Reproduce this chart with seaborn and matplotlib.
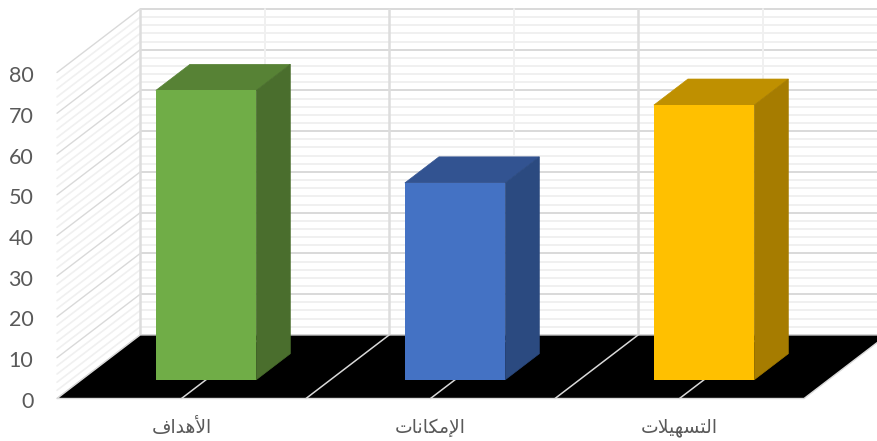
import pandas as pd
import seaborn as sns
import matplotlib.pyplot as plt
from matplotlib.patches import Polygon
from matplotlib.transforms import ScaledTranslation

categories = ["الأهداف", "الإمكانات", "التسهيلات"]
values = [71, 48.3, 67.4]
front_colors = ["#70AD47", "#4472C4", "#FFC000"]
top_colors = ["#578235", "#325391", "#BF9000"]
side_colors = ["#4A6E2D", "#2B4A80", "#A67C00"]
y_ticks = [0, 10, 20, 30, 40, 50, 60, 70, 80]

# how far the back of the box is from the front, in data units
DEPTH_X = 0.334
DEPTH_Y = 15.6
BAR_NEAR = 0.295
BAR_FAR = 0.705

# matplotlib has no arabic shaping, so map to presentation forms by hand
ISOLATED = {"ا": 0xFE8D, "أ": 0xFE83, "إ": 0xFE87, "د": 0xFEA9, "ت": 0xFE95, "س": 0xFEB1,
            "ف": 0xFED1, "ك": 0xFED9, "ل": 0xFEDD, "م": 0xFEE1, "ن": 0xFEE5, "ه": 0xFEE9, "ي": 0xFEF1}
NON_JOINING = "اأإد"
LAM_ALEF = {"ا": 0xFEFB, "أ": 0xFEF7, "إ": 0xFEF9}


def shape_arabic(word):
    out = []
    i = 0
    joined = False
    while i < len(word):
        ch = word[i]
        if ch == "ل" and i + 1 < len(word) and word[i + 1] in LAM_ALEF:
            out.append(chr(LAM_ALEF[word[i + 1]] + (1 if joined else 0)))
            joined = False
            i += 2
            continue
        can_join_next = ch not in NON_JOINING and i + 1 < len(word)
        if joined and can_join_next:
            offset = 3
        elif joined:
            offset = 1
        elif can_join_next:
            offset = 2
        else:
            offset = 0
        out.append(chr(ISOLATED[ch] + offset))
        joined = can_join_next
        i += 1
    return "".join(reversed(out))


def project(x, y, depth):
    return x + depth * DEPTH_X, y + depth * DEPTH_Y


sns.set_theme(style="white")
plt.rcParams["font.family"] = ["Lato", "DejaVu Sans"]

fig = plt.figure(figsize=(8.77, 4.41), dpi=100)
ax = fig.add_axes([57 / 877, (441 - 398.5) / 441, (804 - 57) / 877, (398.5 - 72.5) / 441])
ax.patch.set_alpha(0)

df = pd.DataFrame({"category": categories, "value": values})
sns.barplot(data=df, x="category", y="value", hue="category", palette=front_colors,
            saturation=1, width=0.403, legend=False, ax=ax, zorder=6, linewidth=0, edgecolor="none")
ax.set_xlim(-0.5, 2.5)
ax.set_ylim(0, 80)
ax.set_xlabel("")
ax.set_ylabel("")
sns.despine(ax=ax, left=True, bottom=True)

x0, x1 = ax.get_xlim()

# back wall and left wall, minor lines first
for level in range(0, 81, 2):
    major = level % 10 == 0
    color = "#D9D9D9" if major else "#F0F0F0"
    zo = 1.5 if major else 1
    ax.plot(*zip(project(x0, level, 1), project(x1, level, 1)), color=color,
            lw=1.4, zorder=zo, clip_on=False, solid_capstyle="butt")
    ax.plot(*zip(project(x0, level, 0), project(x0, level, 1)), color=color,
            lw=1 if major else 1.2, zorder=zo, clip_on=False)

# floor
corners = [project(x0, 0, 0), project(x1, 0, 0), project(x1, 0, 1), project(x0, 0, 1)]
ax.add_patch(Polygon(corners, closed=True, facecolor="black", edgecolor="#D9D9D9", lw=1,
                     zorder=2, clip_on=False))

# walls verticals and lines across the floor
for i in range(7):
    pos = x0 + i * 0.5
    major = i % 2 == 0
    ax.plot(*zip(project(pos, 0, 1), project(pos, 80, 1)), color="#DDDDDD" if major else "#F0F0F0",
            lw=1.8 if major else 1.4, zorder=1.8, clip_on=False)
    if 0 < i < 6:
        ax.plot(*zip(project(pos, 0, 0), project(pos, 0, 1)), color="#D9D9D9", lw=1.1,
                zorder=3, clip_on=False)

# move seaborn's bars into the box and add the top and side faces
for bar, top_c, side_c in zip(ax.patches, top_colors, side_colors):
    left = bar.get_x()
    right = left + bar.get_width()
    height = bar.get_height()
    base_x, base_y = project(0, 0, BAR_NEAR)
    bar.set_x(left + base_x)
    bar.set_y(base_y)
    left, right = left + base_x, right + base_x
    gap = BAR_FAR - BAR_NEAR
    top = base_y + height
    top_face = [(left, top), (right, top), project(right, top, gap), project(left, top, gap)]
    side_face = [(right, base_y), project(right, base_y, gap), project(right, top, gap), (right, top)]
    # thin edge in the face colour closes the seam against the black floor
    ax.add_patch(Polygon(top_face, closed=True, facecolor=top_c, edgecolor=top_c, lw=0.5, zorder=5, clip_on=False))
    ax.add_patch(Polygon(side_face, closed=True, facecolor=side_c, edgecolor=side_c, lw=0.5, zorder=5, clip_on=False))

ax.set_yticks(y_ticks)
ax.set_xticks(range(len(categories)))
ax.set_xticklabels([shape_arabic(c) for c in categories], family="DejaVu Sans", fontsize=13.5, color="#595959")
ax.tick_params(axis="y", length=0, pad=17, labelsize=15.5, labelcolor="#595959")
ax.tick_params(axis="x", length=0, pad=14)

# value labels sit a little lower in the original
nudge = ScaledTranslation(0, -1.5 / 100, fig.dpi_scale_trans)
for label in ax.get_yticklabels():
    label.set_transform(label.get_transform() + nudge)

fig.savefig("out.png", dpi=100)
